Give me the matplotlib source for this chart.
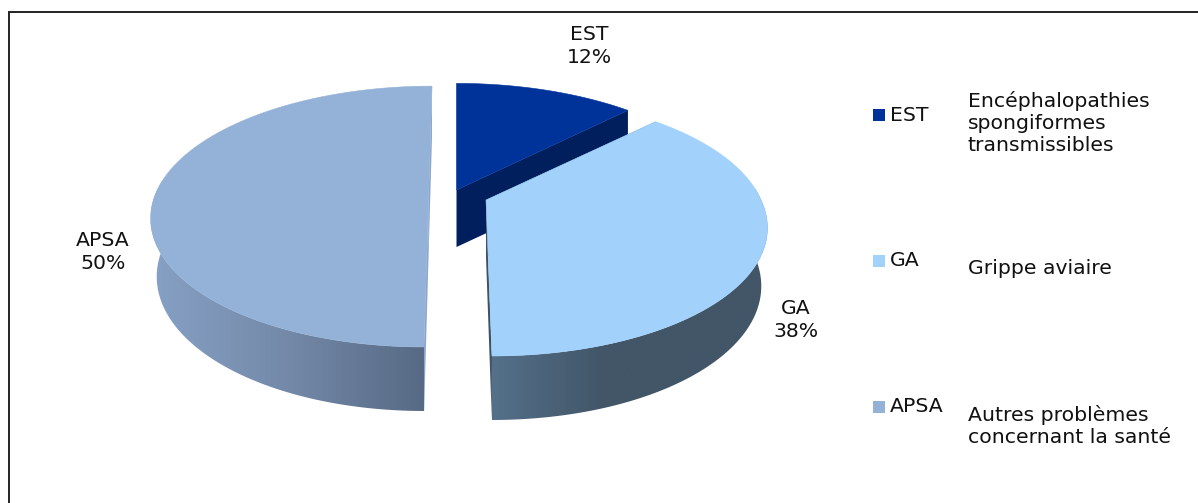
import numpy as np
import matplotlib
matplotlib.use("Agg")
import matplotlib.pyplot as plt
from matplotlib.colors import LinearSegmentedColormap
from matplotlib.patches import Polygon, Rectangle

plt.rcParams["font.family"] = ["DejaVu Sans"]

# data
categories = ["EST", "GA", "APSA"]
shares = [12.4, 37.6, 50.0]
descriptions = [
    "Encéphalopathies\nspongiformes\ntransmissibles",
    "Grippe aviaire",
    "Autres problèmes\nconcernant la santé",
]

# look
TOP_COLORS = ["#003399", "#A2D2FB", "#94B2D8"]
CUT_COLORS = ["#001F5C", "#3F5263", "#8CA6CA"]
SIDE_STOPS = [
    [(0.0, "#001F5C"), (1.0, "#001F5C")],
    [(0.0, "#54708A"), (0.4, "#425668"), (1.0, "#425668")],
    [(0.0, "#86A1C5"), (0.5, "#7489A8"), (1.0, "#566A85")],
]

# pie geometry in pixels, one explode position per slice
RX = [278.0, 275.0, 272.0]
RY = [127.5, 125.4, 125.4]
PERSP = 0.196
CENTERS = [(456.5, 190.0), (486.0, 200.0), (428.8, 191.0)]
TILT_BACK = [0.0, 0.0, 3.85]
TILT_FRONT = [0.0, -4.8, 3.85]
DEPTH = 57.0
BOTTOM_SX = [1.0, 0.978, 0.978]
BOTTOM_SY = [1.0, 1.045, 1.045]
DRAW_ORDER = [2, 0, 1]

LABEL_POS = [(589, 46), (796, 320), (103, 252)]
LEGEND_Y = [115, 261, 407]
DESC_Y = [123, 269, 426]
FONT = 14.7


def project(i, theta):
    u, v = np.sin(theta), np.cos(theta)
    w = 1 + PERSP * v
    cx, cy = CENTERS[i]
    tilt = np.where(v > 0, TILT_BACK[i], TILT_FRONT[i])
    return cx + RX[i] * u / w + tilt * v / w, cy - RY[i] * v / w


def to_bottom(i, x, y):
    cx, cy = CENTERS[i]
    return cx + BOTTOM_SX[i] * (x - cx), cy + DEPTH + BOTTOM_SY[i] * (y - cy)


fig = plt.figure(figsize=(11.98, 5.03), dpi=100)
ax = fig.add_axes([0, 0, 1, 1])
ax.set_axis_off()

edges = np.radians(np.concatenate([[0], np.cumsum(shares)]) * 3.6)

# back to front
for z, i in enumerate(DRAW_ORDER, start=1):
    thetas = np.linspace(edges[i], edges[i + 1], 200)
    x, y = project(i, thetas)
    xb, yb = to_bottom(i, x, y)
    cx, cy = CENTERS[i]

    # flat cut faces, one from the centre to each end of the arc
    for j in [0, -1]:
        face = [(cx, cy), (x[j], y[j]), (xb[j], yb[j]), (cx, cy + DEPTH)]
        ax.add_patch(Polygon(face, closed=True, fc=CUT_COLORS[i], ec="none", zorder=z))

    # outer wall with the horizontal shading, only the part facing the viewer
    front = np.cos(thetas) < 0.1
    if front.any():
        wall = np.column_stack([
            np.r_[x[front], xb[front][::-1]],
            np.r_[y[front], yb[front][::-1]],
        ])
        patch = Polygon(wall, closed=True, fc="none", ec="none", zorder=z)
        ax.add_patch(patch)
        cmap = LinearSegmentedColormap.from_list(f"side{i}", SIDE_STOPS[i])
        im = ax.imshow(
            np.linspace(0, 1, 256)[None, :],
            extent=(wall[:, 0].min(), wall[:, 0].max(), 0, 503),
            cmap=cmap, aspect="auto", zorder=z, interpolation="bilinear",
        )
        im.set_clip_path(patch)

    # top face
    top = np.column_stack([np.r_[cx, x], np.r_[cy, y]])
    ax.add_patch(Polygon(top, closed=True, fc=TOP_COLORS[i], ec=TOP_COLORS[i], lw=0.4, zorder=z))

for i, name in enumerate(categories):
    ax.text(*LABEL_POS[i], f"{name}\n{shares[i]:.0f}%", ha="center", va="center",
            fontsize=FONT, color="#111111", linespacing=1.32, zorder=5)
    ax.add_patch(Rectangle((873, LEGEND_Y[i] - 6), 12, 12, fc=TOP_COLORS[i], ec="none", zorder=5))
    ax.text(890, LEGEND_Y[i], name, ha="left", va="center", fontsize=FONT, color="#111111", zorder=5)
    ax.text(968, DESC_Y[i], descriptions[i], ha="left", va="center", fontsize=FONT,
            color="#111111", linespacing=1.2, zorder=5)

# chart frame, only left and top show in the crop
ax.plot([8.5, 8.5, 1198], [503, 11.5, 11.5], color="#222222", lw=1.4, zorder=6, solid_joinstyle="miter")

ax.set_xlim(0, 1198)
ax.set_ylim(503, 0)
fig.savefig("out.png", dpi=100, facecolor="white")
